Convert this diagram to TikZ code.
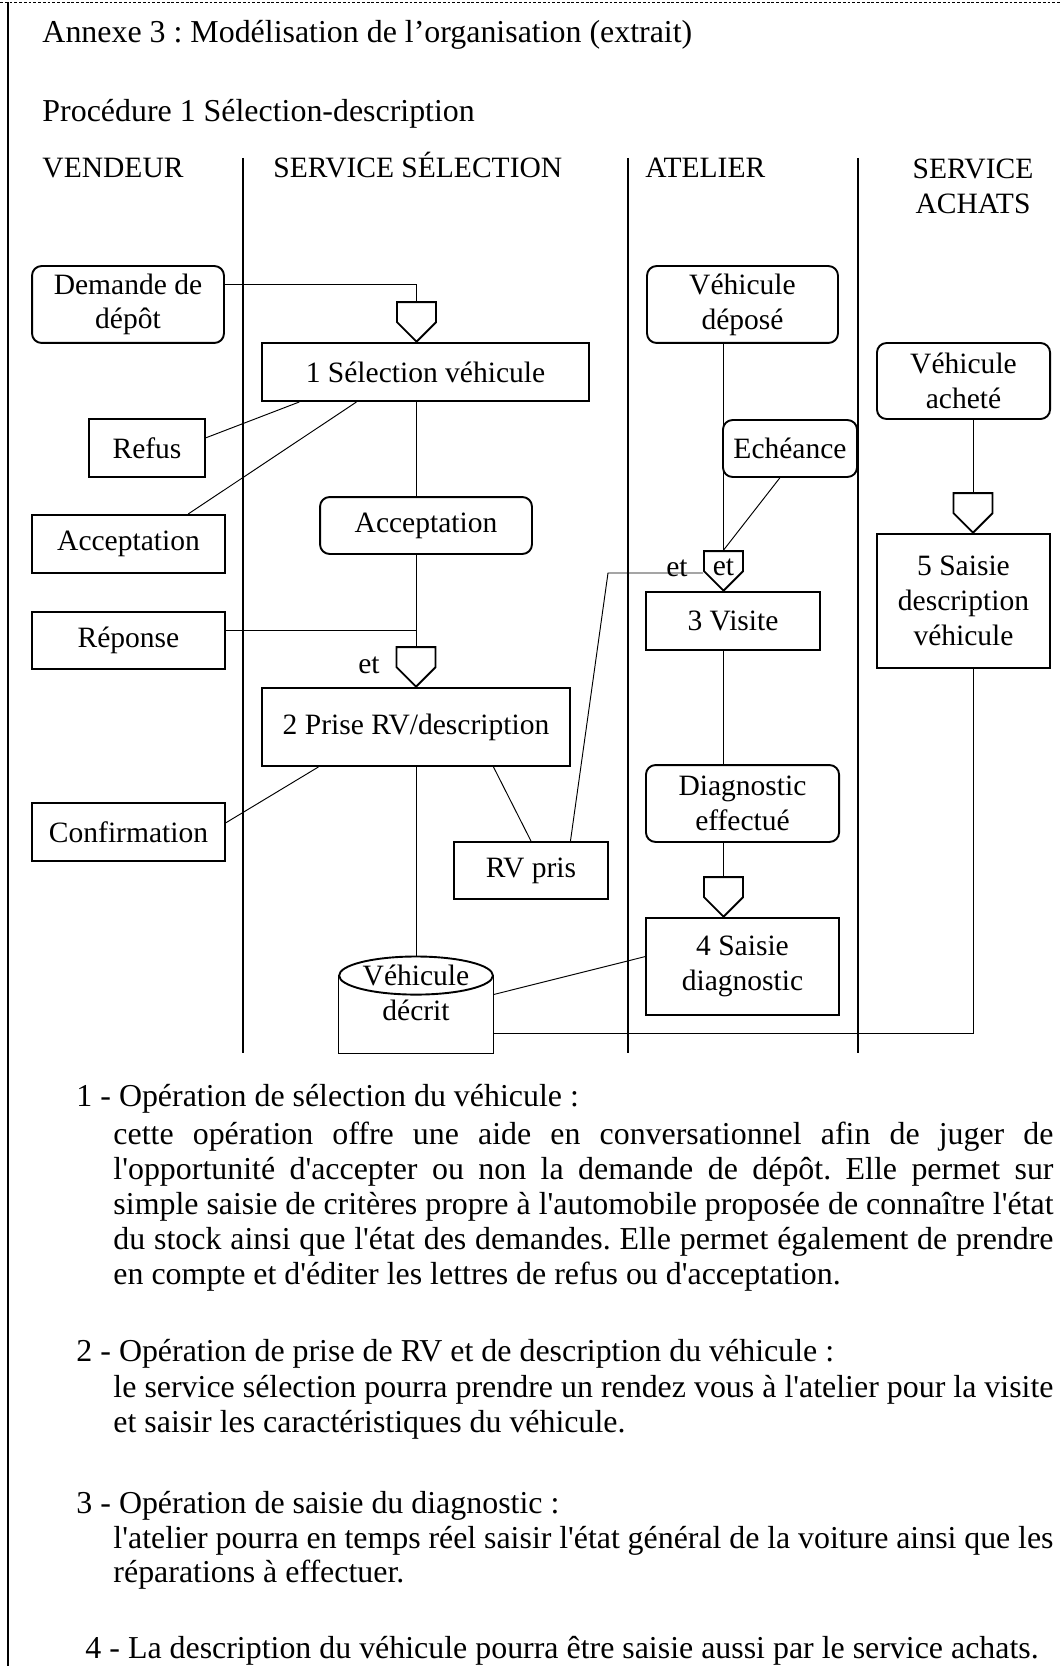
\documentclass[tikz,border=0pt]{standalone}
\usepackage{fontspec}
\setmainfont{Liberation Serif}[Ligatures=TeXOff]
\usetikzlibrary{shapes.symbols,calc}
\frenchspacing

\newcommand\jline[1]{\makebox[394.8pt][s]{#1}}

\tikzset{
  procbox/.style={draw, line width=0.8pt, inner sep=1pt, align=center},
  evtbox/.style={procbox, rounded corners=4pt},
  sync/.style={signal, signal to=south, signal pointer angle=90, draw, line width=0.8pt,
    inner sep=0pt, minimum width=16.4pt, minimum height=8.4pt, anchor=south},
  link/.style={line width=0.4pt},
  lane/.style={line width=0.8pt},
  txt/.style={anchor=base west, inner sep=0pt},
  para/.style={txt, font=\fontsize{13.4}{16}\selectfont},
}

\begin{document}
\begin{tikzpicture}[x=0.42pt, y=-0.42pt, font=\fontsize{12.4}{14.6}\selectfont]
\useasboundingbox (0,0) rectangle (1061,1666);

% cadre
\draw[line width=0.4pt, dash pattern=on 1.2pt off 0.8pt] (0,2) -- (1061,2);
\draw[line width=0.8pt] (8,2) -- (8,1666);

% titres
\node[anchor=west, inner sep=0pt, font=\fontsize{13.4}{16}\selectfont] (titre) at (42,35) {Annexe 3 : Modélisation de l’organisation (extrait)};
\node[anchor=west, inner sep=0pt, font=\fontsize{13.4}{16}\selectfont] (proc) at (42,114) {Procédure 1 Sélection-description};
\node[txt] (hvend) at (42,178) {VENDEUR};
\node[txt] (hsel) at (273,178) {SERVICE SÉLECTION};
\node[txt] (hatel) at (645,178) {ATELIER};
\node[align=center, inner sep=0pt] (hach) at (973,186) {SERVICE\\ACHATS};

% couloirs
\draw[lane] (243,158) -- (243,1053);
\draw[lane] (628,158) -- (628,1053);
\draw[lane] (858,158) -- (858,1053);

% vendeur
\node[evtbox, minimum width=80.6pt, minimum height=32.3pt] (dem) at (128,304.5) {Demande de\\dépôt};
\node[procbox, minimum width=48.7pt, minimum height=24.4pt] (refus) at (147,448) {Refus};
\node[procbox, minimum width=81.1pt, minimum height=24.4pt] (accv) at (128.5,544) {Acceptation};
\node[procbox, minimum width=81.1pt, minimum height=23.9pt] (rep) at (128.5,640.5) {Réponse};
\node[procbox, minimum width=81.1pt, minimum height=24.4pt] (conf) at (128.5,832) {Confirmation};

% service selection
\node[sync] (j1) at (416.5,343) {};
\node[procbox, minimum width=137.3pt, minimum height=24.4pt] (sel) at (425.5,372) {1 Sélection véhicule};
\node[evtbox, minimum width=89pt, minimum height=23.9pt] (accs) at (426,525.5) {Acceptation};
\node[sync] (j2) at (416,688) {};
\node[inner sep=0pt] (et1) at (369,665) {et};
\node[procbox, minimum width=129.4pt, minimum height=32.8pt] (prise) at (416,727) {2 Prise RV/description};
\node[procbox, minimum width=64.7pt, minimum height=23.9pt] (rvpris) at (531,870.5) {RV pris};
\node[minimum width=64.7pt, minimum height=40.3pt, inner sep=0pt] (cyl) at (416,1005) {};
\node[align=center, inner sep=0pt] (cyltxt) at (416,992.5) {Véhicule\\décrit};
\draw[line width=0.8pt] ($(cyl.north)+(0,19)$) ellipse [x radius=32.3pt, y radius=8pt];
\draw[line width=0.8pt] ($(cyl.north west)+(0,19)$) -- (cyl.south west) -- (cyl.south east) -- ($(cyl.north east)+(0,19)$);

% atelier
\node[evtbox, minimum width=80.2pt, minimum height=32.3pt] (depose) at (742.5,304.5) {Véhicule\\déposé};
\node[evtbox, minimum width=56.3pt, minimum height=23.9pt] (echeance) at (790,448.5) {Echéance};
\node[sync, label={[inner sep=0pt, yshift=-2.8pt]center:et}] (j3) at (723.5,592) {};
\node[inner sep=0pt] (et2) at (677,568) {et};
\node[procbox, minimum width=73.1pt, minimum height=24.4pt] (visite) at (733,621) {3 Visite};
\node[evtbox, minimum width=81.1pt, minimum height=32.3pt] (diag) at (742.5,803.5) {Diagnostic\\effectué};
\node[sync] (j4) at (723.5,918) {};
\node[procbox, minimum width=81.1pt, minimum height=40.7pt] (saisie4) at (742.5,966.5) {4 Saisie\\diagnostic};

% service achats
\node[evtbox, minimum width=72.7pt, minimum height=31.9pt] (achete) at (963.5,381) {Véhicule\\acheté};
\node[sync] (j5) at (973,534) {};
\node[procbox, minimum width=72.7pt, minimum height=56.3pt] (saisie5) at (963.5,601) {5 Saisie\\description\\véhicule};

\coordinate (bend) at (608,573);
\coordinate (c5) at (973,1033);

% liens
\draw[link] ($(dem.north east)!0.25!(dem.south east)$) -| (j1.north);
\draw[link] ($(refus.north east)!0.33!(refus.south east)$) -- ($(sel.south west)!0.116!(sel.south east)$);
\draw[link] ($(accv.north west)!0.806!(accv.north east)$) -- ($(sel.south west)!0.29!(sel.south east)$);
\draw[link] (sel.south -| j1.south) -- (accs.north -| j1.south);
\draw[link] (accs.south -| j2.north) -- (j2.north);
\draw[link] ($(rep.north east)!0.33!(rep.south east)$) coordinate (r1) -- (r1 -| j2.north);
\draw[link] ($(conf.north east)!0.345!(conf.south east)$) -- ($(prise.south west)!0.185!(prise.south east)$);
\draw[link] (rvpris.north) -- ($(prise.south west)!0.75!(prise.south east)$);
\draw[link] ($(rvpris.north west)!0.753!(rvpris.north east)$) -- (bend) -- (bend -| j3.west);
\draw[link] (prise.south) -- (cyl.north);
\draw[link] (depose.south -| j3.north) -- (j3.north);
\draw[link] ($(echeance.south west)!0.425!(echeance.south east)$) -- (j3.north);
\draw[link] (visite.south -| j3.south) -- (diag.north -| j3.south);
\draw[link] (diag.south -| j4.north) -- (j4.north);
\draw[link] ($(saisie4.north west)!0.4!(saisie4.south west)$) -- ($(cyl.north east)+(0,38)$);
\draw[link] (achete.south -| j5.north) -- (j5.north);
\draw[link] (saisie5.south -| j5.south) -- (c5) -- (c5 -| cyl.east);

% commentaires
\node[para] (n1) at (76,1106) {1 - Opération de sélection du véhicule :};
\node[para] (n1a) at (113,1144) {\jline{cette opération offre une aide en conversationnel afin de juger de}};
\node[para] (n1b) at (113,1179) {\jline{l'opportunité d'accepter ou non la demande de dépôt. Elle permet sur}};
\node[para] (n1c) at (113,1214) {\jline{simple saisie de critères propre à l'automobile proposée de connaître l'état}};
\node[para] (n1d) at (113,1249) {\jline{du stock ainsi que l'état des demandes. Elle permet également de prendre}};
\node[para] (n1e) at (113,1284) {en compte et d'éditer les lettres de refus ou d'acceptation.};
\node[para] (n2) at (76,1361) {2 - Opération de prise de RV et de description du véhicule :};
\node[para] (n2a) at (113,1397) {\jline{le service sélection pourra prendre un rendez vous à l'atelier pour la visite}};
\node[para] (n2b) at (113,1432) {et saisir les caractéristiques du véhicule.};
\node[para] (n3) at (76,1513) {3 - Opération de saisie du diagnostic :};
\node[para] (n3a) at (113,1548) {\jline{l'atelier pourra en temps réel saisir l'état général de la voiture ainsi que les}};
\node[para] (n3b) at (113,1582) {réparations à effectuer.};
\node[para] (n4) at (85,1658) {4 - La description du véhicule pourra être saisie aussi par le service achats.};
\end{tikzpicture}
\end{document}
